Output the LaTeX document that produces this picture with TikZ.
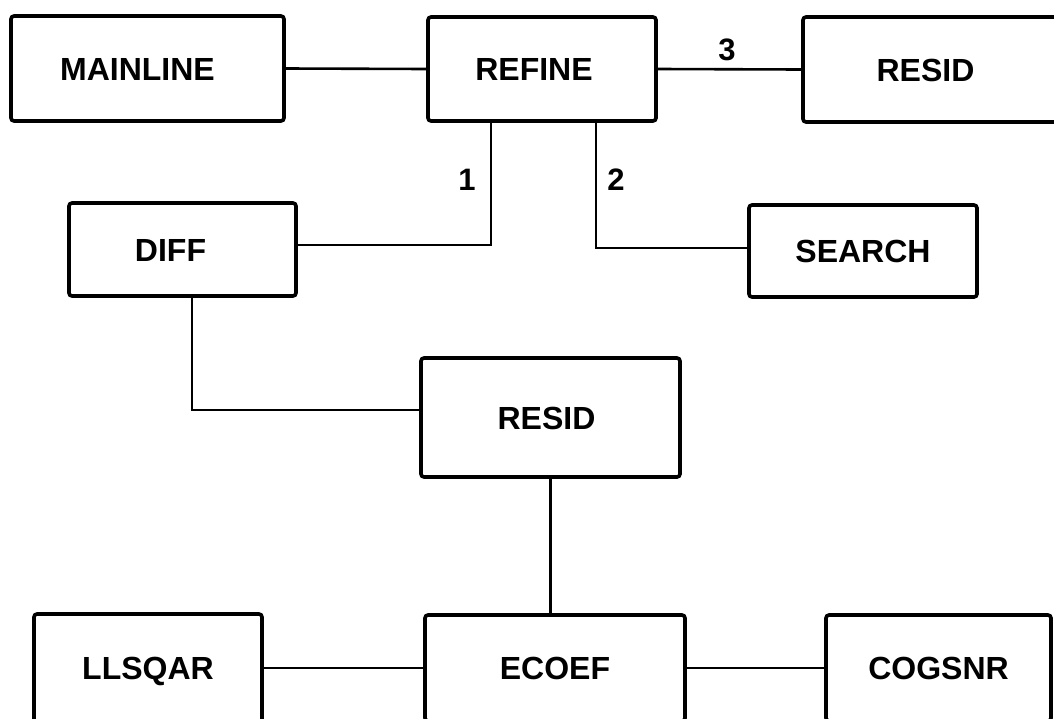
\documentclass[tikz,border=0pt]{standalone}
\usepackage{fontspec}
\setmainfont{Liberation Sans}[BoldFont={Liberation Sans Bold}]
\begin{document}
\begin{tikzpicture}[x=1pt,y=-1pt,
  box/.style={draw,line width=3.6pt,rounded corners=3pt,inner sep=0pt,
    text height=23pt,text depth=0pt,
    font=\fontsize{32}{34}\selectfont\bfseries},
  conn/.style={line width=2.6pt},
  lbl/.style={font=\fontsize{31}{33}\selectfont\bfseries,inner sep=0pt}]
\useasboundingbox (0,0) rectangle (1054,718);
\clip (0,0) rectangle (1054,718);
\node[box,minimum width=273pt,minimum height=105pt] (mainline) at (147.5,68.5) {MAINLINE\kern20pt};
\node[box,minimum width=228pt,minimum height=104pt] (refine) at (542,69) {REFINE\kern16pt};
\node[box,minimum width=259pt,minimum height=105pt] (resida) at (932.5,69.5) {RESID\kern14pt};
\node[box,minimum width=227pt,minimum height=93pt] (diff) at (182.5,249.5) {DIFF\kern24pt};
\node[box,minimum width=228pt,minimum height=92pt] (search) at (863,251) {SEARCH};
\node[box,minimum width=259pt,minimum height=119pt] (residb) at (550.5,417.5) {RESID\kern8pt};
\node[box,minimum width=228pt,minimum height=108pt] (llsqar) at (148,668) {LLSQAR};
\node[box,minimum width=260pt,minimum height=106pt] (ecoef) at (555,668) {ECOEF};
\node[box,minimum width=225pt,minimum height=106pt] (cogsnr) at (938.5,668) {COGSNR};
\coordinate (k1) at (491,245);
\coordinate (k2) at (596,248);
\coordinate (k3) at (192,410);
\draw[conn] (mainline.east) -- (refine.west);
\draw[conn] (refine.east) -- (resida.west);
\draw[conn] (refine.south -| k1) -- (k1) -- (diff.east |- k1);
\draw[conn] (refine.south -| k2) -- (k2) -- (search.west |- k2);
\draw[conn] (diff.south -| k3) -- (k3) -- (residb.west |- k3);
\draw[conn] (residb.south) -- (residb.south |- ecoef.north);
\draw[conn] (llsqar.east) -- (ecoef.west);
\draw[conn] (ecoef.east) -- (cogsnr.west);
\node[lbl] (l1) at (467,180) {1};
\node[lbl] (l2) at (616,180) {2};
\node[lbl] (l3) at (727,50) {3};
\end{tikzpicture}
\end{document}
